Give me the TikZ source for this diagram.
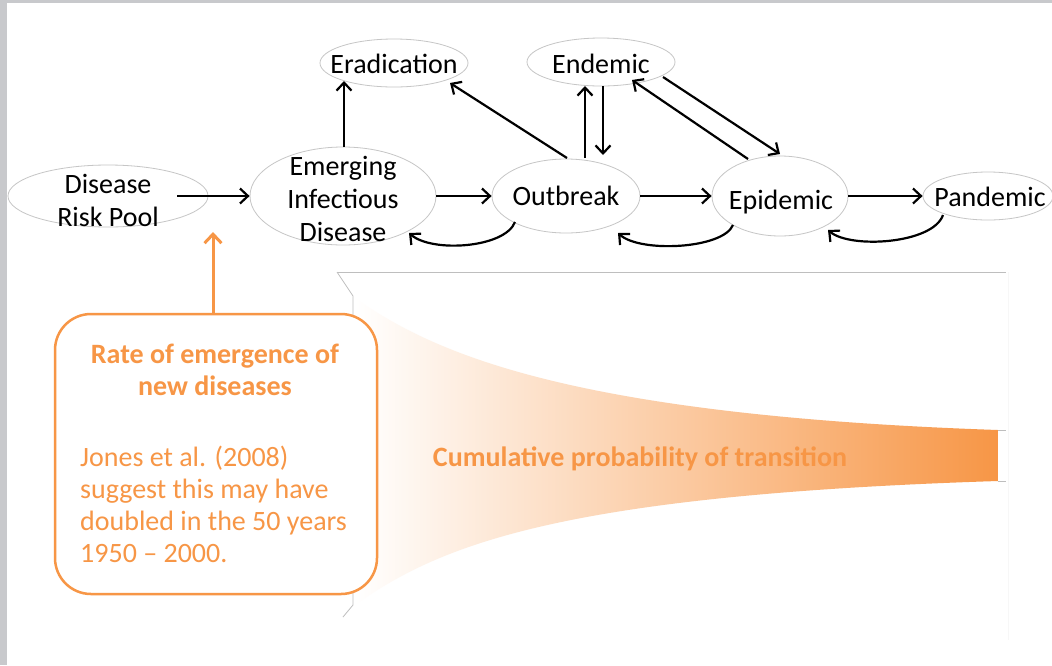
\documentclass[tikz,border=0pt]{standalone}
\usepackage{fontspec}
\setmainfont{Carlito}
\usetikzlibrary{shapes.geometric,arrows.meta}
\definecolor{orangeC}{HTML}{F79646}
\definecolor{frameG}{HTML}{C8C9CC}
\definecolor{lineG}{HTML}{BEBEBE}
\begin{document}
\begin{tikzpicture}[x=1pt,y=-1pt,
  ell/.style={ellipse, draw=gray!45, line width=0.8pt, inner sep=0pt},
  lbl/.style={font=\fontsize{28}{33}\selectfont, align=center, inner sep=0pt},
  arr/.style={line width=2.2pt, -{Straight Barb[length=8pt,width=15pt]}},
  oarr/.style={orangeC, line width=3pt, -{Straight Barb[length=9pt,width=17pt]}},
  grayln/.style={lineG, line width=0.8pt},
  otext/.style={text=orangeC, inner sep=0pt, font=\fontsize{28}{32}\selectfont}]
\useasboundingbox (0,0) rectangle (1052,665);
\fill[white] (0,0) rectangle (1052,665);
\fill[frameG] (0,0) rectangle (1052,3);
\fill[frameG] (0,0) rectangle (7,665);

% chart frame lines
\draw[grayln] (337,272) -- (1006,272);
\draw[grayln] (337,272) -- (353,296) -- (353,605) -- (343,617);
\draw[grayln] (998,430) -- (1006,430);
\draw[grayln] (998,481) -- (1006,481);
\draw[gray!6, line width=0.6pt] (1008,272) -- (1008,640);

% funnel
\shade[left color=white, right color=orangeC]
  (355,298) .. controls (430,350) and (560,415) .. (998,430)
  -- (998,481) .. controls (560,495) and (440,545) .. (355,605) -- cycle;
\node[otext, font=\bfseries\fontsize{28}{32}\selectfont] (cum) at (640,459) {Cumulative probability of transition};

% orange box
\node[draw=orangeC, line width=2.5pt, rounded corners=36pt, fill=white,
      minimum width=322pt, minimum height=280pt] (rate) at (216,454) {};
\node[otext, align=center, font=\bfseries\fontsize{28}{32}\selectfont] (ratetitle) at (215,370) {Rate of emergence of\\new diseases};
\node[otext, align=left, anchor=west] (ratebody) at (80,504) {Jones et al. (2008)\\suggest this may have\\doubled in the 50 years\\1950 -- 2000.};
\coordinate (otip) at (213,232);
\draw[oarr] (rate.north -| otip) -- (otip);

% state ellipses
\node[ell, minimum width=200pt, minimum height=62pt] (drp) at (108,196) {};
\node[ell, minimum width=186pt, minimum height=98pt] (eid) at (343,196) {};
\node[ell, minimum width=148pt, minimum height=48pt] (erad) at (394,63) {};
\node[ell, minimum width=148pt, minimum height=48pt] (endm) at (601,62) {};
\node[ell, minimum width=148pt, minimum height=74pt] (outb) at (566,196) {};
\node[ell, minimum width=136pt, minimum height=80pt] (epid) at (780,196) {};
\node[ell, minimum width=130pt, minimum height=48pt] (pand) at (988,196) {};

\node[lbl] (drpT) at (108,200) {Disease\\Risk Pool};
\node[lbl] (eidT) at (343,199) {Emerging\\Infectious\\Disease};
\node[lbl] (eradT) at (394,64) {Eradication};
\node[lbl] (endmT) at (601,64) {Endemic};
\node[lbl] (outbT) at (566,196) {Outbreak};
\node[lbl] (epidT) at (781,202) {Epidemic};
\node[lbl] (pandT) at (990,197) {Pandemic};

% main row
\draw[arr] ([shift={(69,0)}]drp.center) -- (eid.west);
\draw[arr] (eid.east) -- (outb.west);
\draw[arr] (outb.east) -- (epid.west);
\draw[arr] (epid.east) -- (pand.west);
% upward
\draw[arr] ([shift={(1,-49)}]eid.center) -- ([shift={(-50,18)}]erad.center);
\draw[arr] ([shift={(1,-38)}]outb.center) -- ([shift={(56,20)}]erad.center);
\draw[arr] ([shift={(19,-38)}]outb.center) -- ([shift={(-16,24)}]endm.center);
\draw[arr] ([shift={(2,24)}]endm.center) -- ([shift={(37,-41)}]outb.center);
\draw[arr] ([shift={(-32,-37)}]epid.center) -- ([shift={(31,18)}]endm.center);
\draw[arr] ([shift={(62,15)}]endm.center) -- ([shift={(0,-42)}]epid.center);
% return loops
\draw[arr] ([shift={(-51,26)}]outb.center) .. controls (505,248) and (432,253) .. ([shift={(66,37)}]eid.center);
\draw[arr] ([shift={(-47,29)}]epid.center) .. controls (723,249) and (640,253) .. ([shift={(52,37)}]outb.center);
\draw[arr] ([shift={(-45,19)}]pand.center) .. controls (933,244) and (850,249) .. ([shift={(48,34)}]epid.center);
\end{tikzpicture}
\end{document}
